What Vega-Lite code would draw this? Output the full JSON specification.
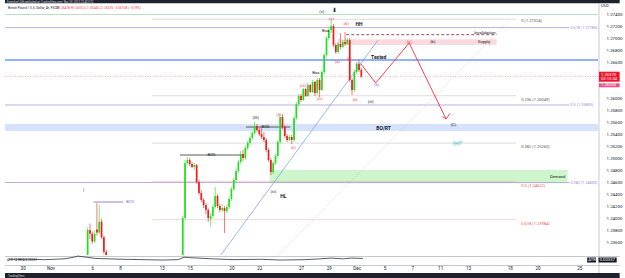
{
"$schema":"https://vega.github.io/schema/vega-lite/v6.json",
"width":603,"height":251,
"autosize":"none",
"padding":{"left":0,"top":4,"right":22,"bottom":23},
"background":"#ffffff",
"config":{"view":{"stroke":null},"font":"Roboto","axis":{"labelOverlap":false,"labelFlush":false,"grid":false,"ticks":false,"domain":false,"labelColor":"#131722","labelFont":"Roboto"}},
"datasets":{
"candles":[
{"t":4.6667,"o":1.2300,"h":1.2386,"l":1.2295,"c":1.2381},
{"t":4.8333,"o":1.2381,"h":1.2392,"l":1.2366,"c":1.2375},
{"t":5.0,"o":1.2375,"h":1.2379,"l":1.2358,"c":1.2362},
{"t":5.1667,"o":1.2362,"h":1.2380,"l":1.2360,"c":1.2375},
{"t":5.3333,"o":1.2382,"h":1.2426,"l":1.2372,"c":1.2377},
{"t":5.5,"o":1.2377,"h":1.2423,"l":1.2374,"c":1.2395},
{"t":5.6667,"o":1.2395,"h":1.2400,"l":1.2366,"c":1.2369},
{"t":5.8333,"o":1.2369,"h":1.2372,"l":1.2341,"c":1.2345},
{"t":6.0,"o":1.2345,"h":1.2348,"l":1.2322,"c":1.2328},
{"t":11.5,"o":1.2328,"h":1.24045,"l":1.2323,"c":1.24012},
{"t":11.6667,"o":1.24012,"h":1.24978,"l":1.23978,"c":1.24928},
{"t":11.8333,"o":1.24928,"h":1.25028,"l":1.24895,"c":1.24978},
{"t":12.0,"o":1.24978,"h":1.25012,"l":1.24878,"c":1.24912},
{"t":12.1667,"o":1.24912,"h":1.24945,"l":1.24845,"c":1.24862},
{"t":12.3333,"o":1.24862,"h":1.24928,"l":1.24812,"c":1.24895},
{"t":12.5,"o":1.24895,"h":1.24912,"l":1.24578,"c":1.24612},
{"t":12.6667,"o":1.24612,"h":1.24645,"l":1.24395,"c":1.24428},
{"t":12.8333,"o":1.24428,"h":1.24478,"l":1.24278,"c":1.24312},
{"t":13.0,"o":1.24312,"h":1.24345,"l":1.24178,"c":1.24228},
{"t":13.1667,"o":1.24228,"h":1.24262,"l":1.24078,"c":1.24145},
{"t":13.3333,"o":1.24145,"h":1.24178,"l":1.23945,"c":1.24012},
{"t":13.5,"o":1.23995,"h":1.24095,"l":1.23867,"c":1.24045},
{"t":13.6667,"o":1.24045,"h":1.24228,"l":1.24012,"c":1.24195},
{"t":13.8333,"o":1.24195,"h":1.24528,"l":1.24162,"c":1.24378},
{"t":14.0,"o":1.24378,"h":1.24412,"l":1.24178,"c":1.24212},
{"t":14.1667,"o":1.24212,"h":1.24245,"l":1.24112,"c":1.24145},
{"t":14.3333,"o":1.24145,"h":1.24245,"l":1.24112,"c":1.24178},
{"t":14.5,"o":1.24178,"h":1.24212,"l":1.23762,"c":1.24128},
{"t":14.6667,"o":1.24128,"h":1.24228,"l":1.24095,"c":1.24195},
{"t":14.8333,"o":1.24195,"h":1.24362,"l":1.24162,"c":1.24328},
{"t":15.0,"o":1.24328,"h":1.24528,"l":1.24295,"c":1.24495},
{"t":15.1667,"o":1.24495,"h":1.24678,"l":1.24462,"c":1.24645},
{"t":15.3333,"o":1.24645,"h":1.24828,"l":1.24612,"c":1.24795},
{"t":15.5,"o":1.24795,"h":1.24978,"l":1.24762,"c":1.24945},
{"t":15.6667,"o":1.24945,"h":1.25128,"l":1.24912,"c":1.25078},
{"t":15.8333,"o":1.25078,"h":1.25145,"l":1.24962,"c":1.25012},
{"t":16.0,"o":1.25012,"h":1.25212,"l":1.24978,"c":1.25178},
{"t":16.1667,"o":1.25178,"h":1.25295,"l":1.25145,"c":1.25262},
{"t":16.3333,"o":1.25262,"h":1.25378,"l":1.25228,"c":1.25345},
{"t":16.5,"o":1.25345,"h":1.25462,"l":1.25312,"c":1.25428},
{"t":16.6667,"o":1.25428,"h":1.25617,"l":1.25395,"c":1.25545},
{"t":16.8333,"o":1.25545,"h":1.25578,"l":1.25445,"c":1.25478},
{"t":17.0,"o":1.25478,"h":1.25512,"l":1.25378,"c":1.25412},
{"t":17.1667,"o":1.25412,"h":1.25528,"l":1.25328,"c":1.25362},
{"t":17.3333,"o":1.25362,"h":1.25445,"l":1.25278,"c":1.25312},
{"t":17.5,"o":1.25312,"h":1.25345,"l":1.25112,"c":1.25145},
{"t":17.6667,"o":1.25145,"h":1.25178,"l":1.24945,"c":1.24978},
{"t":17.8333,"o":1.24978,"h":1.25012,"l":1.24728,"c":1.24778},
{"t":18.0,"o":1.24778,"h":1.24962,"l":1.24745,"c":1.24928},
{"t":18.1667,"o":1.24928,"h":1.25078,"l":1.24895,"c":1.25045},
{"t":18.3333,"o":1.25045,"h":1.25312,"l":1.25012,"c":1.25278},
{"t":18.5,"o":1.25278,"h":1.25762,"l":1.25245,"c":1.25695},
{"t":18.6667,"o":1.25695,"h":1.25745,"l":1.25495,"c":1.25528},
{"t":18.8333,"o":1.25528,"h":1.25562,"l":1.25345,"c":1.25378},
{"t":19.0,"o":1.25378,"h":1.25412,"l":1.25278,"c":1.25312},
{"t":19.1667,"o":1.25312,"h":1.25395,"l":1.25295,"c":1.25362},
{"t":19.3333,"o":1.25362,"h":1.25395,"l":1.25245,"c":1.25312},
{"t":19.5,"o":1.25312,"h":1.25712,"l":1.25278,"c":1.25678},
{"t":19.6667,"o":1.25678,"h":1.25945,"l":1.25645,"c":1.25912},
{"t":19.8333,"o":1.25912,"h":1.26078,"l":1.25878,"c":1.26045},
{"t":20.0,"o":1.26045,"h":1.26078,"l":1.25945,"c":1.25978},
{"t":20.1667,"o":1.25978,"h":1.26178,"l":1.25962,"c":1.26162},
{"t":20.3333,"o":1.26162,"h":1.26178,"l":1.26028,"c":1.26045},
{"t":20.5,"o":1.26045,"h":1.26262,"l":1.26028,"c":1.26228},
{"t":20.6667,"o":1.26228,"h":1.26245,"l":1.26095,"c":1.26112},
{"t":20.8333,"o":1.26112,"h":1.26312,"l":1.26095,"c":1.26278},
{"t":21.0,"o":1.26278,"h":1.26295,"l":1.26045,"c":1.26095},
{"t":21.1667,"o":1.26095,"h":1.26345,"l":1.26062,"c":1.26312},
{"t":21.3333,"o":1.26312,"h":1.26345,"l":1.26028,"c":1.26145},
{"t":21.5,"o":1.26145,"h":1.26478,"l":1.26128,"c":1.26445},
{"t":21.6667,"o":1.26445,"h":1.26762,"l":1.26412,"c":1.26728},
{"t":21.8333,"o":1.26728,"h":1.27045,"l":1.26695,"c":1.27012},
{"t":22.0,"o":1.27012,"h":1.27178,"l":1.26978,"c":1.27145},
{"t":22.1667,"o":1.27145,"h":1.27324,"l":1.27095,"c":1.27212},
{"t":22.3333,"o":1.27212,"h":1.27245,"l":1.26862,"c":1.26895},
{"t":22.5,"o":1.26895,"h":1.26928,"l":1.26745,"c":1.26778},
{"t":22.6667,"o":1.26778,"h":1.26945,"l":1.26745,"c":1.26912},
{"t":22.8333,"o":1.26912,"h":1.27095,"l":1.26828,"c":1.26862},
{"t":23.0,"o":1.26862,"h":1.26978,"l":1.26845,"c":1.26945},
{"t":23.1667,"o":1.26945,"h":1.27112,"l":1.26878,"c":1.26912},
{"t":23.3333,"o":1.26912,"h":1.27012,"l":1.26895,"c":1.26978},
{"t":23.5,"o":1.26978,"h":1.27012,"l":1.26278,"c":1.26312},
{"t":23.6667,"o":1.26312,"h":1.26345,"l":1.26062,"c":1.26145},
{"t":23.8333,"o":1.26145,"h":1.26478,"l":1.26112,"c":1.26445},
{"t":24.0,"o":1.26445,"h":1.26612,"l":1.26412,"c":1.26578},
{"t":24.1667,"o":1.26578,"h":1.26645,"l":1.26445,"c":1.26478},
{"t":24.3333,"o":1.26478,"h":1.26512,"l":1.26345,"c":1.2637}
],
"atr":[
{"t":-0.989,"a":0.00297},{"t":0.424,"a":0.00297},{"t":1.555,"a":0.00277},{"t":2.968,"a":0.00317},{"t":3.675,"a":0.00397},{"t":3.958,"a":0.00457},{"t":4.382,"a":0.00417},{"t":5.23,"a":0.00337},{"t":7.208,"a":0.00297},{"t":10.035,"a":0.00257},{"t":11.166,"a":0.00277},{"t":11.59,"a":0.00397},{"t":12.014,"a":0.00377},{"t":13.71,"a":0.00317},{"t":15.124,"a":0.00277},{"t":17.102,"a":0.00297},{"t":18.516,"a":0.00257},{"t":20.212,"a":0.00277},{"t":21.343,"a":0.00317},{"t":22.191,"a":0.00357},{"t":23.039,"a":0.00317},{"t":23.604,"a":0.00357},{"t":24.452,"a":0.00337}
],
"zones":[
{"zone":"BO/RT","t":-1.2721,"t2":41.3428,"p":1.25462,"p2":1.25578},
{"zone":"Demand","t":17.739,"t2":39.152,"p":1.2459,"p2":1.24812},
{"zone":"Supply","t":22.615,"t2":34.064,"p":1.26895,"p2":1.2699}
],
"greenLine":[{"t":-1.2721,"t2":41.3428,"p":1.27403}],
"purpleLines":[{"t":-1.2721,"t2":39.29,"p":1.27185},{"t":-1.2721,"t2":39.29,"p":1.25895},{"t":-1.2721,"t2":39.29,"p":1.24603}],
"blueLine":[{"t":-1.2721,"t2":41.3428,"p":1.26645}],
"fibGray":[{"t":9.329,"t2":35.477,"p":1.27324},{"t":9.329,"t2":35.477,"p":1.26049},{"t":9.329,"t2":35.477,"p":1.2526}],
"fibRed":[{"t":9.329,"t2":35.477,"p":1.24622},{"t":9.329,"t2":35.477,"p":1.23984}],
"priceLines":[{"t":-1.2721,"t2":41.3428,"p":1.2637}],
"bosPurple":[{"t":5.088,"t2":7.208,"p":1.24278}],
"bosBlack":[{"t":11.307,"t2":15.901,"p":1.25062},{"t":16.042,"t2":19.223,"p":1.25528}],
"invalid":[{"t":23.251,"t2":34.064,"p":1.27067}],
"trend":[{"t":14.24,"p":1.23395},{"t":25.512,"p":1.26972}],
"fibDiag":[{"t":18.375,"p":1.23395},{"t":35.053,"p":1.27324}],
"proj":[{"i":0,"t":24.311,"p":1.26578},{"i":1,"t":25.371,"p":1.26262},{"i":2,"t":27.774,"p":1.26928},{"i":3,"t":30.424,"p":1.25662}],
"arrow":[{"i":0,"t":30.177,"p":1.25703},{"i":1,"t":30.424,"p":1.25662},{"i":2,"t":30.707,"p":1.25753}],
"darkStrips":[{"t":-1.2721,"t2":42.9,"p":1.2759,"p2":1.2766},{"t":-1.2721,"t2":42.9,"p":1.2298,"p2":1.23095}],
"sepH":[{"t":-1.2721,"t2":42.9,"p":1.2337},{"t":-1.2721,"t2":42.9,"p":1.2322}],
"sepV":[{"t":41.413,"p":1.2759,"p2":1.23095}],
"tagRed":[{"t":41.413,"t2":42.9,"p":1.26283,"p2":1.2645}],
"tagPink":[{"t":41.413,"t2":42.9,"p":1.2619,"p2":1.26257}],
"tagBlack":[{"t":40.565,"t2":41.201,"p":1.2327,"p2":1.23353},{"t":41.378,"t2":42.686,"p":1.2327,"p2":1.23353}],
"tagText":[{"t":41.555,"p":1.26403,"txt":"1.26370"},{"t":41.555,"p":1.26328,"txt":"03:15:34"},{"t":41.555,"p":1.26223,"txt":"1.26333"},{"t":40.65,"p":1.23312,"txt":"ATR"},{"t":41.46,"p":1.23312,"txt":"0.00337"}],
"lblRed":[{"t":18.375,"p":1.25728,"txt":"(i)"},{"t":19.435,"p":1.25178,"txt":"(ii)"},{"t":20.141,"p":1.26212,"txt":"(iii)"},{"t":21.343,"p":1.25995,"txt":"(iv)"},{"t":22.191,"p":1.27328,"txt":"(v)"},{"t":23.251,"p":1.27245,"txt":"(b)"},{"t":22.615,"p":1.26612,"txt":"(a)"},{"t":23.463,"p":1.26662,"txt":"(c)"},{"t":23.887,"p":1.25978,"txt":"(ii)"},{"t":27.774,"p":1.26945,"txt":"(c)"}],
"lblPurple":[{"t":24.17,"p":1.26578,"txt":"(x)"},{"t":25.442,"p":1.26228,"txt":"(b)"},{"t":7.703,"p":1.24278,"txt":"BOS"}],
"lblBlack":[{"t":21.484,"p":1.27445,"txt":"(v)"},{"t":29.47,"p":1.26945,"txt":"(b)"},{"t":25.018,"p":1.25945,"txt":"(iii)"},{"t":16.749,"p":1.25678,"txt":"(III)"},{"t":30.954,"p":1.25562,"txt":"(C)"},{"t":18.021,"p":1.24445,"txt":"(iv)"},{"t":21.767,"p":1.27128,"txt":"Bos"},{"t":21.06,"p":1.26428,"txt":"Bos"},{"t":13.569,"p":1.25062,"txt":"BOS"},{"t":17.456,"p":1.25528,"txt":"BOS"},{"t":33.216,"p":1.27095,"txt":"Invalidation"},{"t":33.145,"p":1.26945,"txt":"Supply"},{"t":38.445,"p":1.24695,"txt":"Demand"}],
"lblBold":[{"t":24.17,"p":1.27245,"txt":"HH"},{"t":25.583,"p":1.26695,"txt":"Tested"},{"t":25.936,"p":1.25512,"txt":"BO/RT"},{"t":18.728,"p":1.24378,"txt":"HL"}],
"lblCyan":[{"t":31.237,"p":1.25245,"txt":"(iv)?"}],
"lblBlue":[{"t":4.382,"p":1.24478,"txt":"I"}],
"icon":[{"t":22.403,"p":1.27478,"txt":"⬇"}],
"fibGrayLbl":[{"t":35.83,"p":1.27295,"txt":"0 (1.27324)"},{"t":35.83,"p":1.25978,"txt":"0.236 (1.26049)"},{"t":35.83,"p":1.25195,"txt":"0.382 (1.25260)"}],
"fibRedLbl":[{"t":35.83,"p":1.24545,"txt":"0.5 (1.24622)"},{"t":35.83,"p":1.23912,"txt":"0.618 (1.23984)"}],
"fibPurpleLbl":[{"t":39.364,"p":1.27185,"txt":"0.618 (1.27185)"},{"t":39.364,"p":1.25895,"txt":"0.5 (1.25895)"},{"t":39.364,"p":1.24603,"txt":"0.382 (1.24603)"}],
"headDark":[{"t":-1.06,"p":1.27512,"txt":"British Pound / U.S. Dollar, 4h, FXCM"}],
"headRed":[{"t":2.4,"p":1.27512,"txt":"O1.26478 H1.26512 L1.26345 C1.26370 −0.00108 (−0.09%)"}],
"headStrip":[{"t":-1.13,"p":1.27615,"txt":"Forexlive1@8 published on TradingView.com, Nov 30, 2023 23:40 UTC"}],
"footText":[{"t":-1.06,"p":1.23045,"txt":"TradingView"}],
"usd":[{"t":41.555,"p":1.27545,"txt":"USD"}],
"atrLbl":[{"t":-1.13,"p":1.2332,"txt":"ATR 14 RMA  0.00337"}]
},
"layer":[
{"encoding":{
 "x":{"field":"t","type":"quantitative","scale":{"domain":[-1.2721,41.3428],"nice":false,"zero":false},"axis":{"orient":"bottom","values":[0,2,5,7,10,12,15,17,20,22,24,26,28,30,32,35,37,40],"labelExpr":"['30','','Nov','','','6','','8','','','13','','15','','','20','','22','','','27','','29','','Dec','','5','','7','','11','','13','','','18','','20','','','25'][datum.value]","title":null,"labelFontSize":4.6,"labelPadding":10,"labelOverlap":false,"labelFlush":false}},
 "y":{"field":"p","type":"quantitative","scale":{"domain":[1.23395,1.275783],"nice":false,"zero":false},"axis":{"orient":"right","values":[1.236,1.238,1.24,1.242,1.244,1.246,1.248,1.25,1.252,1.254,1.256,1.258,1.26,1.266,1.268,1.27,1.272,1.274],"format":".5f","title":null,"labelFontSize":4.4,"labelPadding":3,"labelOverlap":false,"labelFlush":false}}
},
"layer":[
{"data":{"name":"zones"},"mark":{"type":"rect"},"encoding":{"x2":{"field":"t2"},"y2":{"field":"p2"},"color":{"field":"zone","type":"nominal","scale":{"domain":["BO/RT","Demand","Supply"],"range":["#d4e3fb","#cdf6cd","#fbdadd"]},"legend":null}}},
{"data":{"name":"darkStrips"},"mark":{"type":"rect","color":"#1e222d"},"encoding":{"x2":{"field":"t2"},"y2":{"field":"p2"}}},
{"data":{"name":"sepH"},"mark":{"type":"rule","color":"#b8bbc2","strokeWidth":0.8},"encoding":{"x2":{"field":"t2"}}},
{"data":{"name":"sepV"},"mark":{"type":"rule","color":"#b8bbc2","strokeWidth":0.8},"encoding":{"y2":{"field":"p2"}}},
{"data":{"name":"greenLine"},"mark":{"type":"rule","color":"#a8d5aa","strokeWidth":0.8},"encoding":{"x2":{"field":"t2"}}},
{"data":{"name":"purpleLines"},"mark":{"type":"rule","color":"#b7a4dc","strokeWidth":0.9},"encoding":{"x2":{"field":"t2"}}},
{"data":{"name":"blueLine"},"mark":{"type":"rule","color":"#6f9af0","strokeWidth":1.4},"encoding":{"x2":{"field":"t2"}}},
{"data":{"name":"fibGray"},"mark":{"type":"rule","color":"#9a9a9a","strokeWidth":0.7,"strokeDash":[1,1]},"encoding":{"x2":{"field":"t2"}}},
{"data":{"name":"fibRed"},"mark":{"type":"rule","color":"#ef8a8a","strokeWidth":0.7,"strokeDash":[1,1]},"encoding":{"x2":{"field":"t2"}}},
{"data":{"name":"priceLines"},"mark":{"type":"rule","color":"#f07c84","strokeWidth":0.6,"strokeDash":[1,1.5]},"encoding":{"x2":{"field":"t2"}}},
{"data":{"name":"bosPurple"},"mark":{"type":"rule","color":"#b7a4dc","strokeWidth":1.4},"encoding":{"x2":{"field":"t2"}}},
{"data":{"name":"bosBlack"},"mark":{"type":"rule","color":"#5a5a5a","strokeWidth":1.2},"encoding":{"x2":{"field":"t2"}}},
{"data":{"name":"invalid"},"mark":{"type":"rule","color":"#8e3a4c","strokeWidth":0.9,"strokeDash":[3,2]},"encoding":{"x2":{"field":"t2"}}},
{"data":{"name":"fibDiag"},"mark":{"type":"line","color":"#b0b0b0","strokeWidth":0.6,"strokeDash":[1,1.5],"clip":true},"encoding":{}},
{"data":{"name":"trend"},"mark":{"type":"line","color":"#6f9af0","strokeWidth":0.7,"clip":true},"encoding":{}},
{"data":{"name":"candles"},"mark":{"type":"rule","strokeWidth":0.6,"clip":true},"encoding":{"y":{"field":"l","type":"quantitative","axis":{"orient":"right","values":[1.236,1.238,1.24,1.242,1.244,1.246,1.248,1.25,1.252,1.254,1.256,1.258,1.26,1.266,1.268,1.27,1.272,1.274],"format":".5f","title":null,"labelFontSize":4.4,"labelPadding":3,"labelOverlap":false,"labelFlush":false}},"y2":{"field":"h"},"color":{"condition":{"test":"datum.c >= datum.o","value":"#1fe01f"},"value":"#f21c1c"}}},
{"data":{"name":"candles"},"mark":{"type":"bar","size":1.7,"clip":true},"encoding":{"y":{"field":"o","type":"quantitative","axis":{"orient":"right","values":[1.236,1.238,1.24,1.242,1.244,1.246,1.248,1.25,1.252,1.254,1.256,1.258,1.26,1.266,1.268,1.27,1.272,1.274],"format":".5f","title":null,"labelFontSize":4.4,"labelPadding":3,"labelOverlap":false,"labelFlush":false}},"y2":{"field":"c"},"color":{"condition":{"test":"datum.c >= datum.o","value":"#1fe01f"},"value":"#f21c1c"}}},
{"data":{"name":"proj"},"mark":{"type":"line","color":"#f0303c","strokeWidth":0.9},"encoding":{"order":{"field":"i"}}},
{"data":{"name":"arrow"},"mark":{"type":"line","color":"#f0303c","strokeWidth":0.9},"encoding":{"order":{"field":"i"}}},
{"data":{"name":"tagRed"},"mark":{"type":"rect","color":"#f0142a"},"encoding":{"x2":{"field":"t2"},"y2":{"field":"p2"}}},
{"data":{"name":"tagPink"},"mark":{"type":"rect","color":"#f0508c"},"encoding":{"x2":{"field":"t2"},"y2":{"field":"p2"}}},
{"data":{"name":"tagBlack"},"mark":{"type":"rect","color":"#131722"},"encoding":{"x2":{"field":"t2"},"y2":{"field":"p2"}}},
{"data":{"name":"tagText"},"mark":{"type":"text","color":"#ffffff","fontSize":4.2,"align":"left","baseline":"middle"},"encoding":{"text":{"field":"txt"}}},
{"data":{"name":"lblRed"},"mark":{"type":"text","color":"#f23645","fontSize":4.2,"align":"center","baseline":"middle"},"encoding":{"text":{"field":"txt"}}},
{"data":{"name":"lblPurple"},"mark":{"type":"text","color":"#8e6fd0","fontSize":4.2,"align":"center","baseline":"middle"},"encoding":{"text":{"field":"txt"}}},
{"data":{"name":"lblBlack"},"mark":{"type":"text","color":"#131722","fontSize":4.2,"align":"center","baseline":"middle"},"encoding":{"text":{"field":"txt"}}},
{"data":{"name":"lblBold"},"mark":{"type":"text","color":"#131722","fontSize":5,"fontWeight":"bold","align":"center","baseline":"middle"},"encoding":{"text":{"field":"txt"}}},
{"data":{"name":"lblCyan"},"mark":{"type":"text","color":"#00a9cf","fontSize":4.6,"align":"center","baseline":"middle"},"encoding":{"text":{"field":"txt"}}},
{"data":{"name":"lblBlue"},"mark":{"type":"text","color":"#2f7fe0","fontSize":5,"align":"center","baseline":"middle"},"encoding":{"text":{"field":"txt"}}},
{"data":{"name":"icon"},"mark":{"type":"text","color":"#131722","fontSize":6,"font":"DejaVu Sans","align":"center","baseline":"middle"},"encoding":{"text":{"field":"txt"}}},
{"data":{"name":"fibGrayLbl"},"mark":{"type":"text","color":"#555555","fontSize":4,"align":"left","baseline":"middle"},"encoding":{"text":{"field":"txt"}}},
{"data":{"name":"fibRedLbl"},"mark":{"type":"text","color":"#ef5350","fontSize":4,"align":"left","baseline":"middle"},"encoding":{"text":{"field":"txt"}}},
{"data":{"name":"fibPurpleLbl"},"mark":{"type":"text","color":"#9a82d6","fontSize":3.8,"align":"left","baseline":"middle"},"encoding":{"text":{"field":"txt"}}},
{"data":{"name":"headDark"},"mark":{"type":"text","color":"#131722","fontSize":3.2,"align":"left","baseline":"middle"},"encoding":{"text":{"field":"txt"}}},
{"data":{"name":"headRed"},"mark":{"type":"text","color":"#f23645","fontSize":3.2,"align":"left","baseline":"middle"},"encoding":{"text":{"field":"txt"}}},
{"data":{"name":"headStrip"},"mark":{"type":"text","color":"#d1d4dc","fontSize":2.8,"align":"left","baseline":"middle"},"encoding":{"text":{"field":"txt"}}},
{"data":{"name":"footText"},"mark":{"type":"text","color":"#d1d4dc","fontSize":3,"align":"left","baseline":"middle"},"encoding":{"text":{"field":"txt"}}},
{"data":{"name":"usd"},"mark":{"type":"text","color":"#131722","fontSize":4,"align":"left","baseline":"middle"},"encoding":{"text":{"field":"txt"}}},
{"data":{"name":"atrLbl"},"mark":{"type":"text","color":"#131722","fontSize":3.2,"align":"left","baseline":"middle"},"encoding":{"text":{"field":"txt"}}}
]},
{"data":{"name":"atr"},"mark":{"type":"line","color":"#131722","strokeWidth":0.7},"encoding":{"x":{"field":"t","type":"quantitative","axis":{"orient":"bottom","values":[0,2,5,7,10,12,15,17,20,22,24,26,28,30,32,35,37,40],"labelExpr":"['30','','Nov','','','6','','8','','','13','','15','','','20','','22','','','27','','29','','Dec','','5','','7','','11','','13','','','18','','20','','','25'][datum.value]","title":null,"labelFontSize":4.6,"labelPadding":10,"labelOverlap":false,"labelFlush":false}},"y":{"field":"a","type":"quantitative","scale":{"domain":[0.0001,0.0046],"range":[261,252]},"axis":null}}}
],
"resolve":{"scale":{"y":"independent"}}
}
